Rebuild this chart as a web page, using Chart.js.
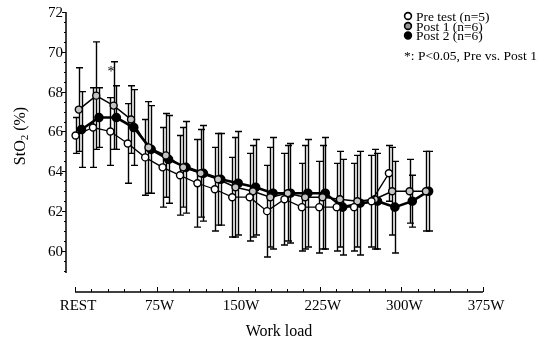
<!DOCTYPE html>
<html>
<head>
<meta charset="utf-8">
<script src="https://cdn.jsdelivr.net/npm/chart.js@4"></script>
<style>
  body { margin: 0; background: #fff; }
</style>
</head>
<body>
<canvas id="stoChart" width="551" height="349"></canvas>
<script>
// work load (W) at each sample
const workload = [2, 18, 34, 50, 66, 82, 98, 114, 130, 146, 162, 178, 194, 210, 226, 242, 258, 274, 290, 306, 321];

const preMean  = [65.8, 66.2, 66.0, 65.4, 64.7, 64.2, 63.8, 63.4, 63.1, 62.7, 62.7, 62.0, 62.6, 62.2, 62.2, 62.2, 62.2, 62.5, 63.9];
const preSD    = [0.9, 2.0, 1.7, 2.0, 1.9, 2.0, 2.0, 2.2, 2.1, 2.0, 2.2, 2.3, 2.3, 2.2, 2.3, 2.2, 2.2, 2.3, 1.4];
const post1Mean = [67.1, 67.8, 67.3, 66.6, 65.2, 64.8, 64.2, 63.9, 63.6, 63.2, 63.0, 62.7, 62.9, 62.7, 62.7, 62.6, 62.5, 62.6, 63.0, 63.0, 63.0];
const post1SD   = [2.1, 2.7, 2.2, 1.7, 2.3, 2.1, 2.0, 2.2, 2.3, 2.5, 2.3, 2.5, 2.4, 2.6, 2.6, 2.4, 2.3, 2.5, 2.2, 1.6, 2.0];
const post2Mean = [66.1, 66.7, 66.7, 66.2, 65.1, 64.6, 64.2, 63.9, 63.6, 63.4, 63.2, 62.9, 62.9, 62.9, 62.9, 62.2, 62.4, 62.5, 62.2, 62.5, 63.0];
const post2SD   = [1.9, 1.5, 1.6, 1.9, 2.2, 2.2, 2.3, 2.4, 2.3, 2.6, 2.4, 2.8, 2.5, 2.7, 2.8, 2.4, 2.6, 2.4, 2.3, 1.3, 2.0];

const yTicks = [60, 62, 64, 66, 68, 70, 72];
const xTicks = [0, 75, 150, 225, 300, 375];
const xTickLabels = ['REST', '75W', '150W', '225W', '300W', '375W'];
const legendLabels = ['Pre test (n=5)', 'Post 1 (n=6)', 'Post 2 (n=6)'];
const noteText = '*: P<0.05, Pre vs. Post 1';
const starIndex = 2;   // significant point (Post 1)
const starValue = 69.1;

const SERIF = '"Liberation Serif", "DejaVu Serif", serif';

function toPoints(mean, shift) {
  return mean.map((v, i) => ({x: workload[i] + shift, y: v}));
}

// error bars with caps, drawn under the markers
const errorBars = {
  id: 'errorBars',
  beforeDatasetsDraw(chart) {
    const {ctx, scales: {x, y}} = chart;
    ctx.save();
    ctx.strokeStyle = '#000';
    ctx.lineWidth = 1.4;
    chart.data.datasets.forEach(ds => {
      ds.data.forEach((p, i) => {
        const px = Math.round(x.getPixelForValue(p.x)) + 0.5;
        const top = y.getPixelForValue(p.y + ds.sd[i]);
        const bot = y.getPixelForValue(p.y - ds.sd[i]);
        ctx.beginPath();
        ctx.moveTo(px, top); ctx.lineTo(px, bot);
        ctx.moveTo(px - 3.5, top); ctx.lineTo(px + 3.5, top);
        ctx.moveTo(px - 3.5, bot); ctx.lineTo(px + 3.5, bot);
        ctx.stroke();
      });
    });
    ctx.restore();
  }
};

// detached journal-style axes, legend and note
const paperAxes = {
  id: 'paperAxes',
  afterDraw(chart) {
    const {ctx, chartArea, scales: {x, y}} = chart;
    ctx.save();
    ctx.strokeStyle = '#000';
    ctx.fillStyle = '#000';

    // y axis
    const ax = chartArea.left;
    ctx.lineWidth = 1.5;
    ctx.beginPath();
    ctx.moveTo(ax, y.getPixelForValue(72));
    ctx.lineTo(ax, y.getPixelForValue(58.9));
    ctx.stroke();
    ctx.lineWidth = 1;
    for (let v = 59; v <= 72; v += 0.5) {
      const py = Math.round(y.getPixelForValue(v)) + 0.5;
      const len = v % 2 === 0 ? 4 : 2;
      ctx.beginPath();
      ctx.moveTo(ax - len, py); ctx.lineTo(ax, py);
      ctx.stroke();
    }
    ctx.font = '15px ' + SERIF;
    ctx.textAlign = 'right';
    ctx.textBaseline = 'middle';
    yTicks.forEach(v => ctx.fillText(String(v), ax - 3, y.getPixelForValue(v) + 1));

    // x axis
    const ay = chartArea.bottom;
    ctx.lineWidth = 1.5;
    ctx.beginPath();
    ctx.moveTo(x.getPixelForValue(0), ay);
    ctx.lineTo(x.getPixelForValue(375), ay);
    ctx.stroke();
    ctx.lineWidth = 1;
    for (let w = 0; w <= 375; w += 15) {
      const px = Math.round(x.getPixelForValue(w)) + 0.5;
      const len = w % 75 === 0 ? 5 : 3;
      ctx.beginPath();
      ctx.moveTo(px, ay); ctx.lineTo(px, ay - len);
      ctx.stroke();
    }
    ctx.textAlign = 'center';
    xTicks.forEach((w, i) => ctx.fillText(xTickLabels[i], x.getPixelForValue(w) + 3, ay + 14));

    // axis titles
    ctx.font = '16px ' + SERIF;
    ctx.fillText('Work load', x.getPixelForValue(187.5), ay + 40);

    ctx.save();
    ctx.translate(21, 136);
    ctx.rotate(-Math.PI / 2);
    ctx.textAlign = 'left';
    const p1 = 'StO', p2 = '2', p3 = ' (%)';
    ctx.font = '16px ' + SERIF;
    const w1 = ctx.measureText(p1).width, w3 = ctx.measureText(p3).width;
    ctx.font = '11px ' + SERIF;
    const w2 = ctx.measureText(p2).width;
    let cx = -(w1 + w2 + w3) / 2;
    ctx.font = '16px ' + SERIF;
    ctx.fillText(p1, cx, 0); cx += w1;
    ctx.font = '11px ' + SERIF;
    ctx.fillText(p2, cx, 4); cx += w2;
    ctx.font = '16px ' + SERIF;
    ctx.fillText(p3, cx, 0);
    ctx.restore();

    // significance star
    ctx.font = '14px ' + SERIF;
    ctx.textAlign = 'center';
    ctx.fillText('*', x.getPixelForValue(workload[starIndex]) - 1, y.getPixelForValue(starValue) + 3);

    // legend
    ctx.font = '13.5px ' + SERIF;
    ctx.textAlign = 'left';
    const rows = [16, 26, 35.5];
    const fills = ['#fff', '#999', '#000'];
    legendLabels.forEach((t, i) => {
      ctx.beginPath();
      ctx.arc(408, rows[i], 3.4, 0, Math.PI * 2);
      ctx.fillStyle = fills[i];
      ctx.fill();
      ctx.lineWidth = 1.6;
      ctx.stroke();
      ctx.fillStyle = '#000';
      ctx.fillText(t, 416, rows[i] + 1);
    });
    ctx.fillText(noteText, 404, 56);
    ctx.restore();
  }
};

new Chart(document.getElementById('stoChart'), {
  type: 'line',
  data: {
    datasets: [
      {
        label: legendLabels[0],
        data: toPoints(preMean, -1.5),
        sd: preSD,
        borderColor: '#000',
        borderWidth: 1.3,
        pointBackgroundColor: '#fff',
        pointBorderColor: '#000',
        pointBorderWidth: 1.4,
        pointRadius: 3.5,
        order: 1
      },
      {
        label: legendLabels[1],
        data: toPoints(post1Mean, 1.5),
        sd: post1SD,
        borderColor: '#000',
        borderWidth: 1.5,
        pointBackgroundColor: '#c4c4c4',
        pointBorderColor: '#000',
        pointBorderWidth: 1.4,
        pointRadius: 3.5,
        order: 2
      },
      {
        label: legendLabels[2],
        data: toPoints(post2Mean, 4),
        sd: post2SD,
        borderColor: '#000',
        borderWidth: 2.6,
        pointBackgroundColor: '#000',
        pointBorderColor: '#000',
        pointRadius: 3.5,
        order: 3
      }
    ]
  },
  options: {
    responsive: false,
    animation: false,
    layout: {padding: {left: 66, right: 68, top: 12, bottom: 57}},
    scales: {
      x: {type: 'linear', min: -8.27, max: 375, display: false},
      y: {min: 57.94, max: 72, display: false}
    },
    plugins: {
      legend: {display: false},
      tooltip: {enabled: false}
    }
  },
  plugins: [errorBars, paperAxes]
});
</script>
</body>
</html>
